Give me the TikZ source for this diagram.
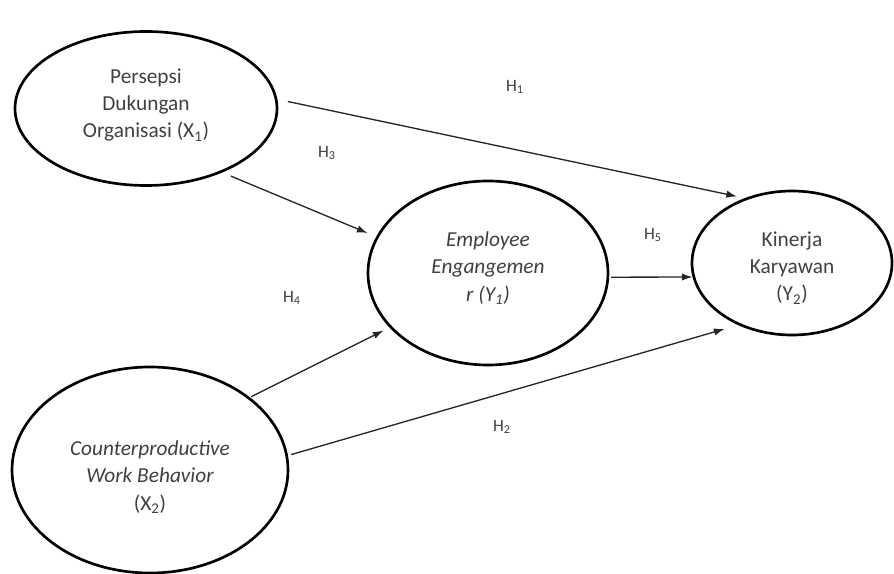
\documentclass[tikz,border=0pt]{standalone}
\usepackage{fontspec}
\setmainfont{Carlito}
\usetikzlibrary{shapes.geometric,arrows.meta}
\begin{document}
\begin{tikzpicture}[x=0.75pt,y=-0.75pt,
  lat/.style={ellipse,draw,line width=2pt,inner sep=0pt},
  lattext/.style={align=center,inner sep=0pt,
    font=\fontsize{16}{20.5}\selectfont,text=black!75},
  pathline/.style={line width=1pt,draw=black!85,-{Latex[length=8pt,width=5.5pt]}},
  hyp/.style={font=\fontsize{13}{15}\selectfont,text=black!75}]
\useasboundingbox (0,0) rectangle (894,574);
\fill[white] (0,0) rectangle (894,574);
\node[lat,minimum width=196.5pt,minimum height=115.5pt] (x1) at (146,108.5) {};
\node[lat,minimum width=180pt,minimum height=138pt] (y1) at (488,273) {};
\node[lat,minimum width=150pt,minimum height=108pt] (y2) at (792,263) {};
\node[lat,minimum width=207pt,minimum height=154.5pt] (x2) at (150,470) {};
\node[lattext] (x1t) at (146,105) {Persepsi\\Dukungan\\Organisasi (X\textsubscript{1})};
\node[lattext] (y1t) at (488,268) {\itshape Employee\\\itshape Engangemen\\\itshape r (Y\textsubscript{1})};
\node[lattext] (y2t) at (792,268) {Kinerja\\Karyawan\\(Y\textsubscript{2})};
\node[lattext] (x2t) at (150,477) {\itshape Counterproductive\\\itshape Work Behavior\\(X\textsubscript{2})};
\draw[pathline,shorten <=8pt,shorten >=6pt] (x1.4.2) -- (y2.126.6);
\draw[pathline,shorten <=7pt,shorten >=7pt] (x1.-40.3) -- (y1.162.4);
\draw[pathline,shorten <=1pt,shorten >=5pt] (x2.36.1) -- (y1.-151);
\draw[pathline,shorten <=2.5pt,shorten >=10.5pt] (x2.6.1) -- (y2.229.3);
\draw[pathline,shorten <=1.5pt] (y1.-2.3) -- (y2.188.5);
\node[hyp] (h1) at (515,87) {H\textsubscript{1}};
\node[hyp] (h3) at (327,153) {H\textsubscript{3}};
\node[hyp] (h5) at (653,235) {H\textsubscript{5}};
\node[hyp] (h4) at (292,298) {H\textsubscript{4}};
\node[hyp] (h2) at (502,427) {H\textsubscript{2}};
\end{tikzpicture}
\end{document}
